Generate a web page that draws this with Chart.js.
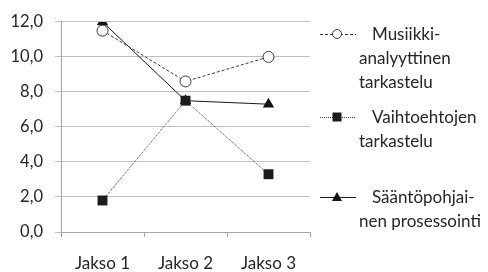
<!DOCTYPE html>
<html><head><meta charset="utf-8">
<script src="https://cdn.jsdelivr.net/npm/chart.js@4/dist/chart.umd.min.js"></script>
<style>html,body{margin:0;padding:0;background:#fff}#wrap{width:488px;height:272px;position:relative}</style>
</head><body><div id="wrap"><canvas id="c" width="488" height="272"></canvas></div>
<script>
const categories = ["Jakso 1", "Jakso 2", "Jakso 3"];
const musiikki = [11.5, 8.6, 10.0];
const vaihtoehdot = [1.8, 7.5, 3.3];
const saanto = [12.0, 7.5, 7.3];
const seriesNames = [["Musiikki-", "analyyttinen", "tarkastelu"], ["Vaihtoehtojen", "tarkastelu"], ["Sääntöpohjai-", "nen prosessointi"]];
const yTicks = { min: 0, max: 12, step: 2 };

const FONT = "Lato, 'Open Sans', sans-serif";
const TXT = "#262626";
const FS = 17;

const legendPlugin = {
  id: 'customLegend',
  afterDraw(chart) {
    const ctx = chart.ctx;
    const ys = [34, 117, 197];
    const ds = chart.data.datasets;
    ctx.save();
    ds.forEach((d, i) => {
      const y = ys[i];
      ctx.strokeStyle = d.borderColor;
      ctx.lineWidth = d.borderWidth;
      ctx.setLineDash(d.borderDash || []);
      ctx.beginPath(); ctx.moveTo(320, y + 0.5); ctx.lineTo(356, y + 0.5); ctx.stroke();
      ctx.setLineDash([]);
      const cx = 337;
      ctx.fillStyle = d.pointBackgroundColor;
      ctx.strokeStyle = d.pointBorderColor;
      ctx.lineWidth = 1;
      if (d.pointStyle === 'circle') {
        ctx.beginPath(); ctx.arc(cx, y, 4.5, 0, Math.PI * 2); ctx.fill(); ctx.stroke();
      } else if (d.pointStyle === 'rect') {
        ctx.fillRect(cx - 4.5, y - 4.5, 9, 9);
      } else {
        ctx.beginPath(); ctx.moveTo(cx, y - 5); ctx.lineTo(cx + 5, y + 4); ctx.lineTo(cx - 5, y + 4); ctx.closePath(); ctx.fill();
      }
      ctx.fillStyle = TXT;
      ctx.font = FS + "px " + FONT;
      ctx.textBaseline = 'middle';
      ctx.textAlign = 'left';
      seriesNames[i].forEach((line, j) => {
        ctx.fillText(line, j === 0 ? 372 : 359, y + 1 + j * 24);
      });
    });
    ctx.restore();
  }
};

new Chart(document.getElementById('c'), {
  type: 'line',
  data: {
    labels: categories,
    datasets: [
      { label: seriesNames[0].join(' '), data: musiikki, borderColor: '#3a3a3a', borderWidth: 1, borderDash: [3, 2],
        pointStyle: 'circle', pointRadius: 5.5, pointBackgroundColor: '#ffffff', pointBorderColor: '#3a3a3a', pointBorderWidth: 1 },
      { label: seriesNames[1].join(' '), data: vaihtoehdot, borderColor: '#444444', borderWidth: 1, borderDash: [1, 1],
        pointStyle: 'rect', pointRadius: 7, pointBackgroundColor: '#1c1c1c', pointBorderColor: '#1c1c1c', pointBorderWidth: 0 },
      { label: seriesNames[2].join(' '), data: saanto, borderColor: '#1a1a1a', borderWidth: 1,
        pointStyle: 'triangle', pointRadius: 6.5, pointBackgroundColor: '#111111', pointBorderColor: '#111111', pointBorderWidth: 0 }
    ]
  },
  options: {
    responsive: false, animation: false, devicePixelRatio: 1,
    layout: { padding: { top: 19, right: 178, left: 0, bottom: 0 } },
    plugins: { legend: { display: false }, tooltip: { enabled: false } },
    elements: { line: { tension: 0 } },
    scales: {
      x: {
        offset: true,
        grid: { drawOnChartArea: false, drawTicks: true, tickLength: 5, color: '#a6a6a6', offset: true },
        border: { display: true, color: '#a6a6a6' },
        ticks: { color: TXT, font: { family: FONT, size: FS }, padding: 16, maxRotation: 0 },
        afterFit(s) { s.height = 40; }
      },
      y: {
        min: yTicks.min, max: yTicks.max,
        grid: { color: '#bfbfbf', tickLength: 6 },
        border: { display: true, color: '#a6a6a6' },
        ticks: { stepSize: yTicks.step, color: TXT, font: { family: FONT, size: FS - 0.5 }, padding: 12,
          callback: v => v.toFixed(1).replace('.', ',') },
        afterFit(s) { s.width = 61; }
      }
    }
  },
  plugins: [legendPlugin]
});
</script></body></html>
